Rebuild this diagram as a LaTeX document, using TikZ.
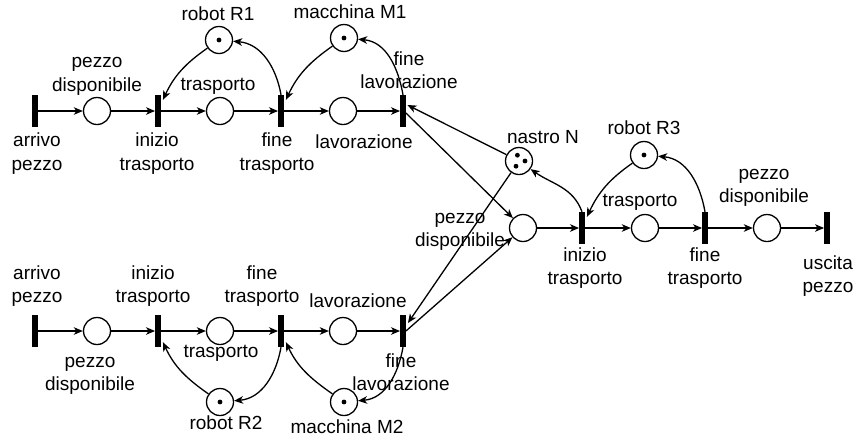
\documentclass[tikz,border=0pt]{standalone}
\usepackage{fontspec}
\setmainfont{Liberation Sans}
\usetikzlibrary{arrows.meta,calc}
\begin{document}
\begin{tikzpicture}[x=1pt,y=1pt,
  place/.style={circle,draw,line width=1.3pt,minimum size=27pt,inner sep=0pt},
  trans/.style={rectangle,fill=black,draw=none,minimum width=5.5pt,minimum height=32pt,inner sep=0pt},
  lbl/.style={font=\fontsize{19}{23.5}\selectfont,align=center,inner sep=0pt},
  arc/.style={line width=1.3pt,-{Stealth[length=9pt,width=7.5pt,inset=2.5pt]}},
  tok/.style={fill=black}]
\useasboundingbox (0,0) rectangle (861,-445);
% ---------- top line ----------
\node[trans] (a1) at (35,-111) {};
\node[place] (pa1) at (97,-111) {};
\node[trans] (ti1) at (158,-111) {};
\node[place] (pt1) at (220,-111) {};
\node[trans] (ft1) at (281,-111) {};
\node[place] (pl1) at (343,-111) {};
\node[trans] (fl1) at (403,-111) {};
\node[place] (R1) at (219,-40) {};
\node[place] (M1) at (344,-38) {};
\fill[tok] (R1.center) circle[radius=2.4pt];
\fill[tok] (M1.center) circle[radius=2.4pt];
% ---------- bottom line ----------
\node[trans] (a2) at (35,-331) {};
\node[place] (pa2) at (97,-331) {};
\node[trans] (ti2) at (158,-331) {};
\node[place] (pt2) at (220,-331) {};
\node[trans] (ft2) at (281,-331) {};
\node[place] (pl2) at (343,-331) {};
\node[trans] (fl2) at (403,-331) {};
\node[place] (R2) at (220,-402) {};
\node[place] (M2) at (344,-402) {};
\fill[tok] (R2.center) circle[radius=2.4pt];
\fill[tok] (M2.center) circle[radius=2.4pt];
% ---------- right part ----------
\node[place] (N) at (519,-161) {};
\fill[tok] ($(N.center)+(-1.6,5.8)$) circle[radius=2.4pt];
\fill[tok] ($(N.center)+(6,0)$) circle[radius=2.4pt];
\fill[tok] ($(N.center)+(-3,-5.2)$) circle[radius=2.4pt];
\node[place] (P) at (523,-228) {};
\node[trans] (ti3) at (582,-228) {};
\node[place] (pt3) at (645,-228) {};
\node[trans] (ft3) at (705,-228) {};
\node[place] (pd3) at (767,-228) {};
\node[trans] (us) at (827,-228) {};
\node[place] (R3) at (644,-155) {};
\fill[tok] (R3.center) circle[radius=2.4pt];
% ---------- arcs top ----------
\draw[arc] (a1) -- (pa1);
\draw[arc] (pa1) -- (ti1);
\draw[arc] (ti1) -- (pt1);
\draw[arc] (pt1) -- (ft1);
\draw[arc] (ft1) -- (pl1);
\draw[arc] (pl1) -- (fl1);
\draw[arc] (R1) to[out=215,in=65] ($(ti1.north east)+(2,-5)$);
\draw[arc] (ft1.north) to[out=100,in=-5] (R1);
\draw[arc] (M1) to[out=215,in=65] ($(ft1.north east)+(2,-5)$);
\draw[arc] (fl1.north) to[out=100,in=-5] (M1);
% ---------- arcs bottom ----------
\draw[arc] (a2) -- (pa2);
\draw[arc] (pa2) -- (ti2);
\draw[arc] (ti2) -- (pt2);
\draw[arc] (pt2) -- (ft2);
\draw[arc] (ft2) -- (pl2);
\draw[arc] (pl2) -- (fl2);
\draw[arc] (R2) to[out=145,in=-65] ($(ti2.south east)+(2,5)$);
\draw[arc] (ft2.south) to[out=-100,in=5] (R2);
\draw[arc] (M2) to[out=145,in=-65] ($(ft2.south east)+(2,5)$);
\draw[arc] (fl2.south) to[out=-100,in=5] (M2);
% ---------- arcs right ----------
\draw[arc] (N) -- ($(fl1.east)+(1.5,6)$);
\draw[arc] ($(fl1.east)+(0,-2)$) -- (P);
\draw[arc] (N) -- ($(fl2.east)+(2,8)$);
\draw[arc] (fl2.east) -- (P);
\draw[arc] (P) -- (ti3);
\draw[arc] (ti3) -- (pt3);
\draw[arc] (pt3) -- (ft3);
\draw[arc] (ft3) -- (pd3);
\draw[arc] (pd3) -- (us);
\draw[arc] (R3) to[out=215,in=65] ($(ti3.north east)+(2,-5)$);
\draw[arc] (ft3.north) to[out=100,in=-5] (R3);
\draw[arc] (ti3.north) to[out=110,in=-35] (N);
% ---------- labels top ----------
\node[lbl] (lR1) at (218,-14) {robot R1};
\node[lbl] (lM1) at (350,-12) {macchina M1};
\node[lbl] (lpd1) at (97,-76.5) {pezzo\\disponibile};
\node[lbl] (ltr1) at (218,-86) {trasporto};
\node[lbl] (lfl1) at (409,-70) {fine\\lavorazione};
\node[lbl] (la1) at (37,-153.5) {arrivo\\pezzo};
\node[lbl] (lti1) at (157,-153.5) {inizio\\trasporto};
\node[lbl] (lft1) at (277,-153.5) {fine\\trasporto};
\node[lbl] (llav1) at (364,-142) {lavorazione};
% ---------- labels bottom ----------
\node[lbl] (la2) at (37,-286) {arrivo\\pezzo};
\node[lbl] (lti2) at (153,-286) {inizio\\trasporto};
\node[lbl] (lft2) at (262,-286) {fine\\trasporto};
\node[lbl] (llav2) at (358,-301) {lavorazione};
\node[lbl] (ltr2) at (221,-353) {trasporto};
\node[lbl] (lpd2) at (90,-376) {pezzo\\disponibile};
\node[lbl] (lfl2) at (401,-372) {fine\\lavorazione};
\node[lbl] (lR2) at (226,-423) {robot R2};
\node[lbl] (lM2) at (347,-427) {macchina M2};
% ---------- labels right ----------
\node[lbl] (lN) at (543,-137) {nastro N};
\node[lbl] (lR3) at (644,-128) {robot R3};
\node[lbl] (ltr3) at (640,-202) {trasporto};
\node[lbl] (lpd3) at (764,-188) {pezzo\\disponibile};
\node[lbl] (lti3) at (585,-268) {inizio\\trasporto};
\node[lbl] (lft3) at (705,-268) {fine\\trasporto};
\node[lbl] (lus) at (828,-276) {uscita\\pezzo};
\node[lbl] (lpdP) at (460,-232) {pezzo\\disponibile};
\end{tikzpicture}
\end{document}
